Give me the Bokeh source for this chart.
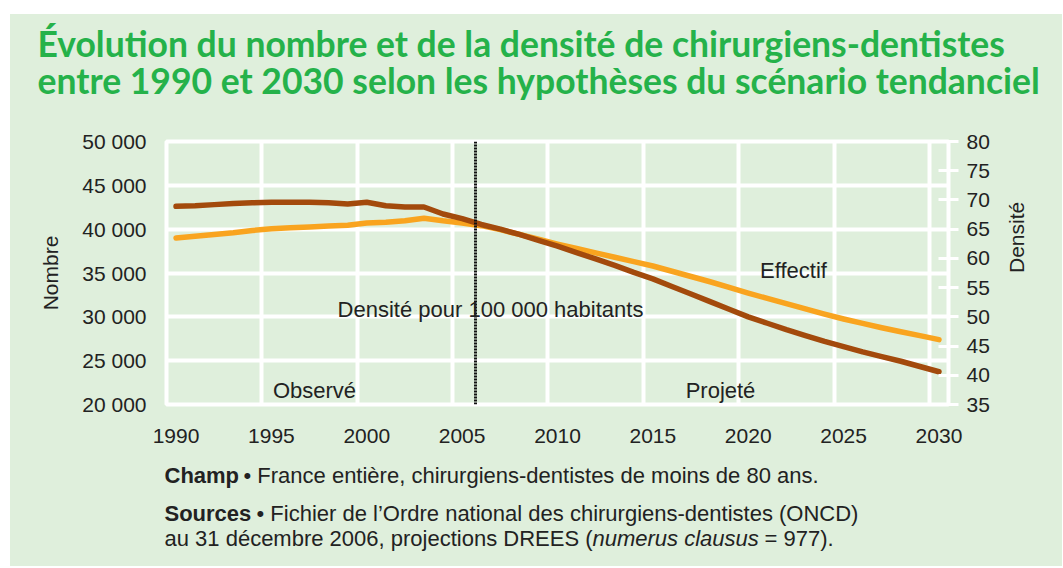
import math
from bokeh.plotting import figure
from bokeh.models import Range1d, LinearAxis, FixedTicker, Label, Span, Spacer
from bokeh.layouts import column, row
from bokeh.embed import file_html
from bokeh.resources import INLINE

# ---------------- data ----------------
years = list(range(1990, 2031))
effectif = [39000, 39200, 39400, 39600, 39850, 40050, 40150, 40250, 40350, 40450,
            40700, 40800, 40950, 41250, 40950, 40700, 40400, 39950, 39400, 38850,
            38300, 37800, 37300, 36800, 36300, 35800, 35200, 34600, 34000, 33350,
            32700, 32100, 31500, 30900, 30300, 29750, 29250, 28750, 28300, 27850,
            27400]
densite = [68.9, 69.0, 69.2, 69.4, 69.5, 69.6, 69.6, 69.6, 69.5, 69.3,
           69.6, 69.0, 68.8, 68.8, 67.6, 66.8, 65.8, 65.0, 64.1, 63.1,
           62.1, 61.0, 59.9, 58.8, 57.6, 56.5, 55.2, 53.9, 52.6, 51.3,
           50.0, 48.9, 47.8, 46.8, 45.8, 44.9, 44.0, 43.2, 42.4, 41.5,
           40.6]
split_year = 2005.7
x_ticks = [1990, 1995, 2000, 2005, 2010, 2015, 2020, 2025, 2030]
left_ticks = [20000, 25000, 30000, 35000, 40000, 45000, 50000]
left_labels = ["20 000", "25 000", "30 000", "35 000", "40 000", "45 000", "50 000"]
right_ticks = [35, 40, 45, 50, 55, 60, 65, 70, 75, 80]

title1 = "Évolution du nombre et de la densité de chirurgiens-dentistes"
title2 = "entre 1990 et 2030 selon les hypothèses du scénario tendanciel"

# ---------------- style ----------------
BG = "#dfefdc"
GREEN = "#25b24a"
TXT = "#222222"
ORANGE = "#f9a41f"
BROWN = "#a34a0c"
FONT = "Liberation Sans"
TFONT = "Lato"

OX, OY = 10, 14               # page offset of the green panel
WF = 1052                     # width of the panel
HT, HM, HB = 98, 346, 108     # heights: title strip, chart, notes strip
MT = OY + HT                  # page y of chart top
NB = MT + HM                  # page y of notes top
FL, FR, FT, FB = 166, 948, 141, 404   # chart frame edges (page px)
X0, X1 = 1989.5, 2030.5
Y0, Y1 = 20000, 50000


def dx(X):
    return X0 + (X - FL) * (X1 - X0) / (FR - FL)


def dy(Y):
    return Y0 + (FB - Y) * (Y1 - Y0) / (FB - FT)


def no_align(f):
    if "frame_align" in f.properties():
        f.frame_align = False


def strip(h):
    f = figure(width=WF, height=h, output_backend="svg", toolbar_location=None,
               x_range=Range1d(0, WF), y_range=Range1d(h, 0),
               x_axis_type=None, y_axis_type=None, min_border=0,
               background_fill_color=BG, border_fill_color=BG,
               outline_line_color=None)
    f.grid.visible = False
    no_align(f)
    return f


def lab(fig, text, x, y, size, font=FONT, style="normal", color=TXT,
        align="left", baseline="middle"):
    fig.add_layout(Label(x=x, y=y, text=text, text_font=font,
                         text_font_size=f"{size}px", text_font_style=style,
                         text_color=color, text_align=align,
                         text_baseline=baseline))


# ---------------- title strip ----------------
top = strip(HT)
lab(top, title1, 37 - OX, 43 - OY, 35.5, font=TFONT, style="bold", color=GREEN)
lab(top, title2, 37 - OX, 80 - OY, 35.5, font=TFONT, style="bold", color=GREEN)

# ---------------- chart ----------------
p = figure(width=WF, height=HM, output_backend="svg", toolbar_location=None,
           x_range=Range1d(X0, X1), y_range=Range1d(Y0, Y1),
           min_border_left=FL - OX, min_border_right=OX + WF - FR,
           min_border_top=FT - MT, min_border_bottom=NB - FB,
           background_fill_color=BG, border_fill_color=BG,
           outline_line_color="white", outline_line_width=4)
no_align(p)

p.xgrid.ticker = FixedTicker(ticks=[t - 0.5 for t in x_ticks])
p.ygrid.ticker = FixedTicker(ticks=left_ticks)
for g in (p.xgrid, p.ygrid):
    g.grid_line_color = "white"
    g.grid_line_width = 4

xa = p.xaxis[0]
xa.ticker = FixedTicker(ticks=x_ticks)
xa.axis_line_color = None
xa.major_tick_line_color = None
xa.minor_tick_line_color = None
xa.major_tick_in = 0
xa.major_tick_out = 0
xa.major_label_standoff = 24
xa.major_label_text_font = FONT
xa.major_label_text_font_size = "21px"
xa.major_label_text_color = TXT

ya = p.yaxis[0]
ya.ticker = FixedTicker(ticks=left_ticks)
ya.major_label_overrides = dict(zip(left_ticks, left_labels))
ya.axis_line_color = None
ya.major_tick_line_color = None
ya.minor_tick_line_color = None
ya.major_tick_in = 0
ya.major_tick_out = 0
ya.major_label_standoff = 20
ya.major_label_text_font = FONT
ya.major_label_text_font_size = "21px"
ya.major_label_text_color = TXT
ya.axis_label = "Nombre"
ya.axis_label_standoff = 17
ya.axis_label_text_font = FONT
ya.axis_label_text_font_size = "21px"
ya.axis_label_text_font_style = "normal"
ya.axis_label_text_color = TXT

p.extra_y_ranges = {"dens": Range1d(35, 80)}
ra = LinearAxis(y_range_name="dens", ticker=FixedTicker(ticks=right_ticks),
                axis_label="Densité")
ra.axis_line_color = None
ra.major_tick_line_color = "white"
ra.major_tick_line_width = 3
ra.major_tick_in = 10
ra.major_tick_out = 10
ra.minor_tick_line_color = None
ra.major_label_standoff = 8
ra.major_label_text_font = FONT
ra.major_label_text_font_size = "21px"
ra.major_label_text_color = TXT
ra.axis_label_standoff = 24
ra.axis_label_text_font = FONT
ra.axis_label_text_font_size = "21px"
ra.axis_label_text_font_style = "normal"
ra.axis_label_text_color = TXT
if "axis_label_orientation" in ra.properties():
    ra.axis_label_orientation = math.pi / 2
p.add_layout(ra, "right")

p.line(years, effectif, line_color=ORANGE, line_width=5.5,
       line_cap="round", line_join="round")
p.line(years, densite, y_range_name="dens", line_color=BROWN, line_width=5.5,
       line_cap="round", line_join="round")

p.add_layout(Span(location=split_year, dimension="height", line_color="#111111",
                  line_width=3, line_dash="2 1"))

lab(p, "Densité pour 100 000 habitants", dx(490), dy(309), 22, align="center")
lab(p, "Effectif", dx(793), dy(270), 22, align="center")
lab(p, "Observé", dx(314), dy(402), 22, align="center", baseline="bottom")
lab(p, "Projeté", dx(720), dy(402), 22, align="center", baseline="bottom")

# ---------------- notes strip ----------------
bot = strip(HB)
lab(bot, "Champ", 164 - OX, 475 - NB, 22, style="bold")
lab(bot, "• France entière, chirurgiens-dentistes de moins de 80 ans.", 243 - OX, 475 - NB, 22)
lab(bot, "Sources", 164 - OX, 513 - NB, 22, style="bold")
lab(bot, "• Fichier de l’Ordre national des chirurgiens-dentistes (ONCD)", 256 - OX, 513 - NB, 22)
lab(bot, "au 31 décembre 2006, projections DREES (", 164 - OX, 538 - NB, 22)
lab(bot, "numerus clausus", 592 - OX, 538 - NB, 22, style="italic")
lab(bot, " = 977).", 764 - OX, 538 - NB, 22)

panel = column(top, p, bot, styles={"background-color": BG})
layout = column(Spacer(height=OY), row(Spacer(width=OX), panel))
open("out.html", "w").write(file_html(layout, INLINE))
